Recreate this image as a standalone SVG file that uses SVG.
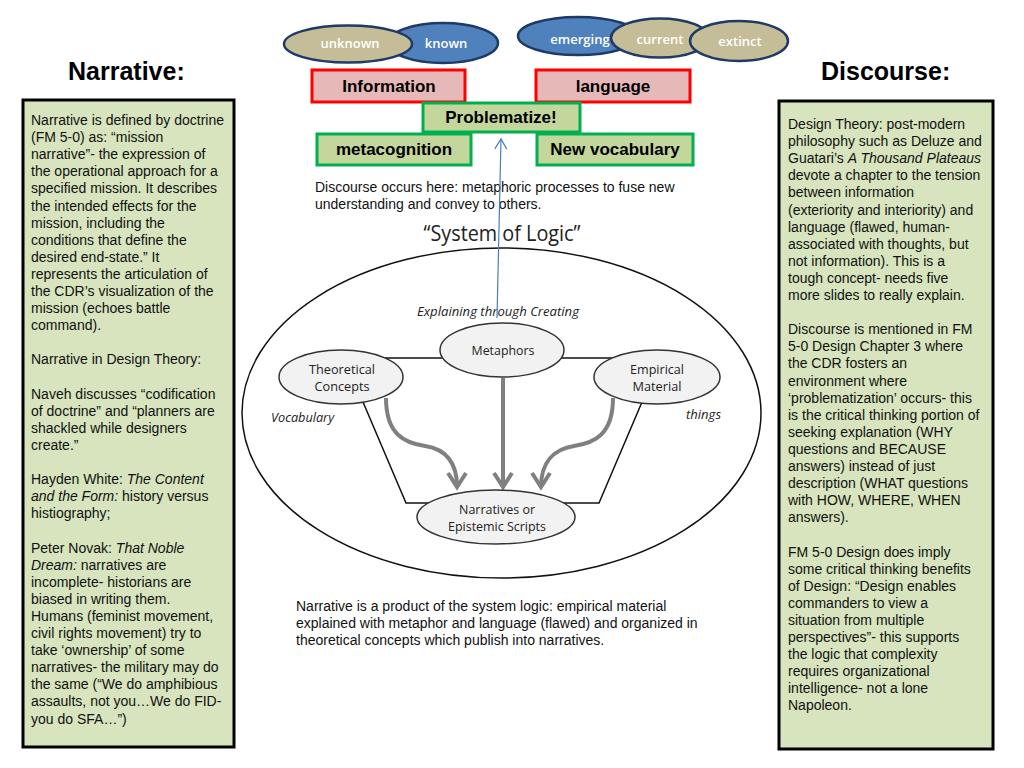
<svg xmlns="http://www.w3.org/2000/svg" width="1024" height="768" viewBox="0 0 1024 768">
<defs>
<style>
.sans{font-family:"Liberation Sans",Arial,sans-serif;}
.body{font-family:"Liberation Sans",Arial,sans-serif;font-size:14px;fill:#111;}
.title{font-family:"Liberation Sans",Arial,sans-serif;font-size:25px;font-weight:bold;fill:#000;}
.textbox{fill:#d7e4bd;stroke:#000;stroke-width:3;}
.redbox{fill:#e6b9b8;stroke:#ff0000;stroke-width:3;}
.greenbox{fill:#c3d69b;stroke:#00b050;stroke-width:3;}
.boxlabel{font-family:"Liberation Sans",Arial,sans-serif;font-size:17px;font-weight:bold;fill:#000;text-anchor:middle;}
.tan{fill:#c4bd97;stroke:#1f3a66;stroke-width:2.5;}
.blue{fill:#4f81bd;stroke:#1f3a66;stroke-width:2.5;}
.ovlabel{font-family:"Open Sans","Liberation Sans",sans-serif;font-size:13px;font-weight:600;fill:#fff;text-anchor:middle;}
.node{fill:#f2f2f2;stroke:#333;stroke-width:1.5;}
.nlabel{font-family:"Open Sans","Liberation Sans",sans-serif;font-size:13px;fill:#222;text-anchor:middle;}
.ital{font-family:"Open Sans","Liberation Sans",sans-serif;font-size:12px;font-style:italic;fill:#222;}
.thin{fill:none;stroke:#111;stroke-width:1.5;}
.gray{fill:none;stroke:#808080;stroke-width:4;}
.i{font-style:italic;}
</style>
<marker id="grayhead" markerUnits="userSpaceOnUse" markerWidth="24" markerHeight="24" viewBox="0 0 24 24" refX="20" refY="12" orient="auto">
<path d="M6,3 L20,12 L6,21" fill="none" stroke="#808080" stroke-width="4" stroke-linejoin="miter"/>
</marker>
<marker id="bluehead" markerUnits="userSpaceOnUse" markerWidth="16" markerHeight="16" viewBox="0 0 16 16" refX="14" refY="8" orient="auto">
<path d="M4,2 L14,8 L4,14" fill="none" stroke="#4a7ebb" stroke-width="1.2"/>
</marker>
</defs>

<rect width="1024" height="768" fill="#fff"/>

<text class="title" x="68" y="80">Narrative:</text>
<text class="title" x="821" y="80">Discourse:</text>

<g id="left-panel">
<rect class="textbox" x="23" y="100" width="211" height="647"/>
<text class="body">
<tspan x="31" y="125">Narrative is defined by doctrine</tspan>
<tspan x="31" y="142.1">(FM 5-0) as: “mission</tspan>
<tspan x="31" y="159.2">narrative”- the expression of</tspan>
<tspan x="31" y="176.3">the operational approach for a</tspan>
<tspan x="31" y="193.4">specified mission. It describes</tspan>
<tspan x="31" y="210.5">the intended effects for the</tspan>
<tspan x="31" y="227.6">mission, including the</tspan>
<tspan x="31" y="244.7">conditions that define the</tspan>
<tspan x="31" y="261.8">desired end-state.” It</tspan>
<tspan x="31" y="278.9">represents the articulation of</tspan>
<tspan x="31" y="296">the CDR’s visualization of the</tspan>
<tspan x="31" y="313.1">mission (echoes battle</tspan>
<tspan x="31" y="330.2">command).</tspan>
<tspan x="31" y="364.4">Narrative in Design Theory:</tspan>
<tspan x="31" y="398.6">Naveh discusses “codification</tspan>
<tspan x="31" y="415.7">of doctrine” and “planners are</tspan>
<tspan x="31" y="432.8">shackled while designers</tspan>
<tspan x="31" y="449.9">create.”</tspan>
<tspan x="31" y="484.1">Hayden White: <tspan class="i">The Content</tspan></tspan>
<tspan x="31" y="501.2"><tspan class="i">and the Form:</tspan> history versus</tspan>
<tspan x="31" y="518.3">histiography;</tspan>
<tspan x="31" y="552.5">Peter Novak: <tspan class="i">That Noble</tspan></tspan>
<tspan x="31" y="569.6"><tspan class="i">Dream:</tspan> narratives are</tspan>
<tspan x="31" y="586.7">incomplete- historians are</tspan>
<tspan x="31" y="603.8">biased in writing them.</tspan>
<tspan x="31" y="620.9">Humans (feminist movement,</tspan>
<tspan x="31" y="638">civil rights movement) try to</tspan>
<tspan x="31" y="655.1">take ‘ownership’ of some</tspan>
<tspan x="31" y="672.2">narratives- the military may do</tspan>
<tspan x="31" y="689.3">the same (“We do amphibious</tspan>
<tspan x="31" y="706.4">assaults, not you…We do FID-</tspan>
<tspan x="31" y="723.5">you do SFA…”)</tspan>
</text>
</g>

<g id="right-panel">
<rect class="textbox" x="779" y="101" width="214" height="648"/>
<text class="body">
<tspan x="788" y="129">Design Theory: post-modern</tspan>
<tspan x="788" y="146.1">philosophy such as Deluze and</tspan>
<tspan x="788" y="163.2">Guatari’s <tspan class="i">A Thousand Plateaus</tspan></tspan>
<tspan x="788" y="180.3">devote a chapter to the tension</tspan>
<tspan x="788" y="197.4">between information</tspan>
<tspan x="788" y="214.5">(exteriority and interiority) and</tspan>
<tspan x="788" y="231.6">language (flawed, human-</tspan>
<tspan x="788" y="248.7">associated with thoughts, but</tspan>
<tspan x="788" y="265.8">not information). This is a</tspan>
<tspan x="788" y="282.9">tough concept- needs five</tspan>
<tspan x="788" y="300">more slides to really explain.</tspan>
<tspan x="788" y="334.2">Discourse is mentioned in FM</tspan>
<tspan x="788" y="351.3">5-0 Design Chapter 3 where</tspan>
<tspan x="788" y="368.4">the CDR fosters an</tspan>
<tspan x="788" y="385.5">environment where</tspan>
<tspan x="788" y="402.6">‘problematization’ occurs- this</tspan>
<tspan x="788" y="419.7">is the critical thinking portion of</tspan>
<tspan x="788" y="436.8">seeking explanation (WHY</tspan>
<tspan x="788" y="453.9">questions and BECAUSE</tspan>
<tspan x="788" y="471">answers) instead of just</tspan>
<tspan x="788" y="488.1">description (WHAT questions</tspan>
<tspan x="788" y="505.2">with HOW, WHERE, WHEN</tspan>
<tspan x="788" y="522.3">answers).</tspan>
<tspan x="788" y="556.5">FM 5-0 Design does imply</tspan>
<tspan x="788" y="573.6">some critical thinking benefits</tspan>
<tspan x="788" y="590.7">of Design: “Design enables</tspan>
<tspan x="788" y="607.8">commanders to view a</tspan>
<tspan x="788" y="624.9">situation from multiple</tspan>
<tspan x="788" y="642">perspectives”- this supports</tspan>
<tspan x="788" y="659.1">the logic that complexity</tspan>
<tspan x="788" y="676.2">requires organizational</tspan>
<tspan x="788" y="693.3">intelligence- not a lone</tspan>
<tspan x="788" y="710.4">Napoleon.</tspan>
</text>
</g>

<g id="oval-known">
<ellipse class="blue" cx="443" cy="43" rx="55" ry="20"/>
<text class="ovlabel" x="446" y="48">known</text>
</g>
<g id="oval-unknown">
<ellipse class="tan" cx="348" cy="44" rx="64" ry="18.5"/>
<text class="ovlabel" x="350" y="48">unknown</text>
</g>
<g id="oval-emerging">
<ellipse class="blue" cx="578" cy="36" rx="60" ry="19"/>
<text class="ovlabel" x="580" y="44">emerging</text>
</g>
<g id="oval-current">
<ellipse class="tan" cx="660" cy="38" rx="49" ry="19.5"/>
<text class="ovlabel" x="660" y="44">current</text>
</g>
<g id="oval-extinct">
<ellipse class="tan" cx="739" cy="41" rx="49" ry="20"/>
<text class="ovlabel" x="740" y="46">extinct</text>
</g>

<g id="box-information">
<rect class="redbox" x="312" y="70" width="153" height="32"/>
<text class="boxlabel" x="389" y="92">Information</text>
</g>
<g id="box-language">
<rect class="redbox" x="536" y="70" width="154" height="32"/>
<text class="boxlabel" x="613" y="92">language</text>
</g>
<g id="box-metacognition">
<rect class="greenbox" x="317" y="134" width="154" height="31"/>
<text class="boxlabel" x="394" y="155">metacognition</text>
</g>
<g id="box-newvocab">
<rect class="greenbox" x="537" y="134" width="156" height="31"/>
<text class="boxlabel" x="615" y="155">New vocabulary</text>
</g>
<g id="box-problematize">
<rect class="greenbox" x="423" y="103" width="157" height="29"/>
<text class="boxlabel" x="501" y="123">Problematize!</text>
</g>

<text class="body" x="315" y="192">Discourse occurs here: metaphoric processes to fuse new</text>
<text class="body" x="315" y="209">understanding and convey to others.</text>

<text x="502" y="241" text-anchor="middle" font-family="'Open Sans','Liberation Sans',sans-serif" font-size="21" fill="#222" textLength="157" lengthAdjust="spacingAndGlyphs">“System of Logic”</text>

<ellipse id="system-boundary" cx="501.5" cy="413" rx="259.5" ry="165" fill="none" stroke="#111" stroke-width="1.5"/>

<g id="connectors">
<line class="thin" x1="380" y1="358" x2="620" y2="358"/>
<polyline class="thin" points="363,402 406,503 435,503"/>
<polyline class="thin" points="642,402 599,503 560,503"/>
<line class="gray" x1="503" y1="378" x2="503" y2="487" marker-end="url(#grayhead)"/>
<path class="gray" d="M386,398 C386,435 405,443 425,446 C445,449 457,462 457,487" marker-end="url(#grayhead)"/>
<path class="gray" d="M613,398 C613,435 594,443 574,446 C554,449 541,462 541,487" marker-end="url(#grayhead)"/>
</g>

<g id="node-metaphors">
<ellipse class="node" cx="502" cy="350" rx="62" ry="27"/>
<text class="nlabel" x="503" y="355" textLength="63" lengthAdjust="spacingAndGlyphs">Metaphors</text>
</g>
<g id="node-theoretical">
<ellipse class="node" cx="341" cy="377" rx="62" ry="27"/>
<text class="nlabel" x="342" y="374" textLength="66" lengthAdjust="spacingAndGlyphs">Theoretical</text>
<text class="nlabel" x="342" y="391" textLength="55" lengthAdjust="spacingAndGlyphs">Concepts</text>
</g>
<g id="node-empirical">
<ellipse class="node" cx="657" cy="377" rx="63" ry="27"/>
<text class="nlabel" x="657" y="374" textLength="54" lengthAdjust="spacingAndGlyphs">Empirical</text>
<text class="nlabel" x="657" y="391" textLength="49" lengthAdjust="spacingAndGlyphs">Material</text>
</g>
<g id="node-narratives">
<ellipse class="node" cx="496" cy="517" rx="79" ry="27"/>
<text class="nlabel" x="497" y="514" textLength="76" lengthAdjust="spacingAndGlyphs">Narratives or</text>
<text class="nlabel" x="497" y="531" textLength="98" lengthAdjust="spacingAndGlyphs">Epistemic Scripts</text>
</g>

<text class="ital" x="417" y="316" textLength="162" lengthAdjust="spacingAndGlyphs">Explaining through Creating</text>
<text class="ital" x="271" y="422" textLength="63" lengthAdjust="spacingAndGlyphs">Vocabulary</text>
<text class="ital" x="686" y="419" textLength="35" lengthAdjust="spacingAndGlyphs">things</text>

<g id="blue-connector">
<line x1="497" y1="318" x2="501" y2="139" stroke="#4a7ebb" stroke-width="1.2" marker-end="url(#bluehead)"/>
</g>

<text class="body" x="296" y="611">Narrative is a product of the system logic: empirical material</text>
<text class="body" x="296" y="628">explained with metaphor and language (flawed) and organized in</text>
<text class="body" x="296" y="645">theoretical concepts which publish into narratives.</text>
</svg>
